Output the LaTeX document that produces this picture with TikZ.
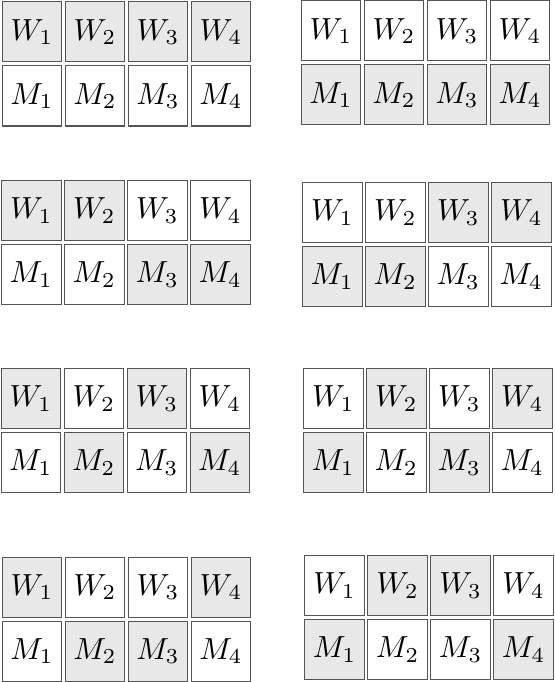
\documentclass[tikz,border=0pt]{standalone}
\usepackage{graphicx}
\definecolor{shade}{RGB}{232,232,232}
\definecolor{edge}{RGB}{85,85,85}
\newcommand{\celltext}[1]{\scalebox{3.05}{$#1$}}
\tikzset{
  cell/.style={draw=edge, line width=1pt, minimum width=59.5pt, minimum height=60pt,
    inner sep=0pt, anchor=north west},
  c1/.style={fill=shade},
  c0/.style={fill=white}
}
\newcommand{\cellgroup}[5]{%
  \foreach \f [count=\i] in {#4} {
    \node[cell, c\f] (#1w\i) at ({#2+63*(\i-1)}, #3) {\celltext{W_{\i}}};
  }
  \foreach \f [count=\i] in {#5} {
    \node[cell, c\f] (#1m\i) at ({#2+63*(\i-1)}, {#3+64}) {\celltext{M_{\i}}};
  }
}
\begin{document}
\begin{tikzpicture}[x=1pt,y=-1pt]
\useasboundingbox (0,0) rectangle (554,682);
\cellgroup{aL}{1.7}{1.5}{1,1,1,1}{0,0,0,0}
\cellgroup{aR}{300.7}{0.5}{0,0,0,0}{1,1,1,1}
\cellgroup{bL}{1}{180}{1,1,0,0}{0,0,1,1}
\cellgroup{bR}{302}{182}{0,0,1,1}{1,1,0,0}
\cellgroup{cL}{0.5}{368}{1,0,1,0}{0,1,0,1}
\cellgroup{cR}{303}{368}{0,1,0,1}{1,0,1,0}
\cellgroup{dL}{1.7}{556.5}{1,0,0,1}{0,1,1,0}
\cellgroup{dR}{304.3}{555}{0,1,1,0}{1,0,0,1}
\end{tikzpicture}
\end{document}
